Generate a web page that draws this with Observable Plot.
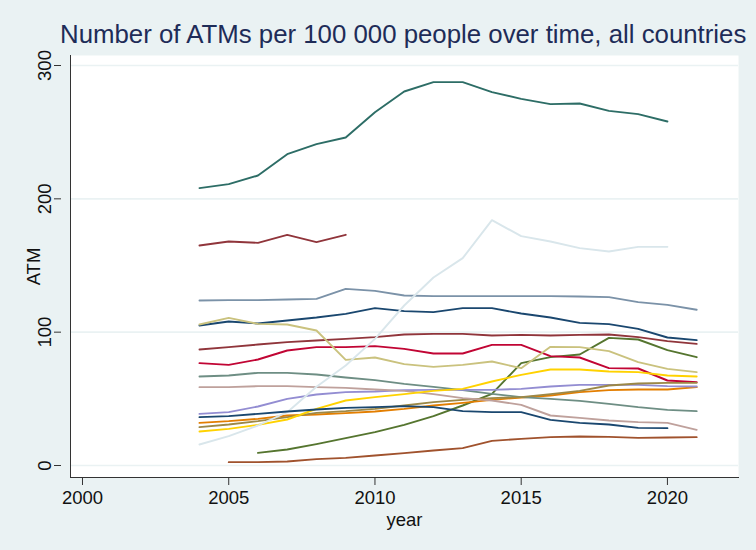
<!DOCTYPE html>
<html><head><meta charset="utf-8">
<script src="https://cdn.jsdelivr.net/npm/d3@7"></script>
<script src="https://cdn.jsdelivr.net/npm/@observablehq/plot@0.6"></script>
<style>
html,body{margin:0;padding:0;background:#EAF2F3;}
#wrap{position:relative;width:756px;height:550px;background:#EAF2F3;font-family:"Liberation Sans",Arial,sans-serif;overflow:hidden}
#title{position:absolute;left:60px;top:22px;font-size:25.8px;line-height:1;color:#1e2c58;white-space:nowrap}
#chart{position:absolute;left:0;top:0}
</style></head><body>
<div id="wrap"><div id="chart"></div><div id="title">Number of ATMs per 100 000 people over time, all countries</div></div>
<script>
// years 2004..2021
const years = [2004,2005,2006,2007,2008,2009,2010,2011,2012,2013,2014,2015,2016,2017,2018,2019,2020,2021];
const xTicks = [2000,2005,2010,2015,2020];
const yTicks = [0,100,200,300];

const sNavyA     = [105,108,106.5,108.75,111,113.75,118,115.75,115,118,118,114,111,107,106,102.5,96,94];
const sMaroonA   = [87,88.75,90.75,92.5,93.75,95,96.25,98.25,98.75,98.75,97.5,98,97.5,98,98.25,96.25,93.25,91.25];
const sForest    = [null,null,9.5,12,16,20.5,25,30.5,37,45,53.75,76.75,81.25,83.25,95.75,94.5,86.5,81.25];
const sOrange    = [32,33.25,35,37.5,38.25,39.25,40.5,42.5,45,47,49.25,51,52.5,55,56.5,57,57,58.75];
const sTeal      = [66.75,67.5,69.5,69.5,68.25,66,64,61.25,59,56.5,53.75,51.25,50,48.5,46.25,43.75,41.75,40.75];
const sCranberry = [76.75,75.5,79.5,86.25,88.75,88.75,89.5,87.5,84,84,90.5,90.5,82,81,73,72.75,63.75,62.5];
const sLavender  = [38.75,40,44.25,50,53.25,55,55.5,56.5,56.75,56.75,56.75,57.5,59.25,60.5,60.5,60.5,59.5,59.25];
const sKhaki     = [105.75,110.75,106.25,105.75,101.25,79.25,81,76,74,75.5,78,73,89,88.75,85.75,77.5,72.5,70];
const sSienna    = [null,2.5,2.5,3,4.75,5.75,7.5,9.25,11.25,13,18.5,20,21.25,21.75,21.5,20.75,21,21.25];
const sEmidblue  = [123.75,124,124,124.5,125,132.5,131,127.5,127,127,127,127,127,126.75,126.3,122.5,120.5,116.8];
const sEmerald   = [208,211,217.5,233.5,241,246,265,280.5,287.5,287.5,280,275,271,271.5,266,263.5,258,null];
const sBrown     = [28.75,30.75,33.25,36.25,39.5,40.75,42.5,45,47.5,49.25,50.5,51.25,53.5,56,60,61.5,62,62];
const sErose     = [58.75,58.75,59.5,59.5,58.75,58.25,57,56,53.5,50.5,48.75,45.5,37.5,35.75,33.75,32.5,32,26.75];
const sGold      = [25.5,27.5,30.5,34.5,42.5,48.75,51.25,53.5,56,57.5,63,68,72,72,70.5,70,67.5,66.75];
const sBluish    = [15.75,22,30,40,59,75,95,120,141,155.5,184,172,168,163,160.5,164,164,null];
const sNavyB     = [36.25,37,38.75,40.5,42,43.25,43.75,44.5,43.75,40.75,40,40,34.25,32,30.75,28.25,28,null];
const sMaroonB   = [165,168,167,173,167.5,173,null,null,null,null,null,null,null,null,null,null,null,null];

const seriesNames = ["1","2","3","4","5","6","7","8","9","10","11","12","13","14","15","16","17"];
const seriesValues = [sNavyA,sMaroonA,sForest,sOrange,sTeal,sCranberry,sLavender,sKhaki,sSienna,sEmidblue,sEmerald,sBrown,sErose,sGold,sBluish,sNavyB,sMaroonB];
const seriesColors = ["#1a476f","#90353b","#55752f","#e37e00","#6e8e84","#c10534","#938dd2","#cac27e","#a0522d","#7b92a8","#2d6d66","#9c8847","#bfa19c","#ffd200","#d9e6eb","#1a476f","#90353b"];

const data = seriesValues.flatMap((vals, i) =>
  years.map((yr, j) => ({year: yr, value: vals[j], series: seriesNames[i]}))
).filter(d => d.value != null);

const chart = Plot.plot({
  width: 756, height: 550,
  marginTop: 55, marginBottom: 73, marginLeft: 70, marginRight: 18,
  style: {background: "transparent", fontFamily: "'Liberation Sans', Arial, sans-serif", color: "#111"},
  x: {domain: [1999.59, 2022.43]},
  y: {domain: [-9, 307.5]},
  color: {domain: seriesNames, range: seriesColors},
  marks: [
    Plot.frame({fill: "white", stroke: null}),
    Plot.gridY(yTicks, {stroke: "#EAF2F3", strokeOpacity: 1, strokeWidth: 1.6}),
    Plot.line(data, {x: "year", y: "value", z: "series", stroke: "series", strokeWidth: 1.9}),
    Plot.frame({anchor: "left", stroke: "#333", strokeWidth: 1}),
    Plot.frame({anchor: "bottom", stroke: "#333", strokeWidth: 1}),
    Plot.axisX(xTicks, {tickSize: 8, tickFormat: d => String(d), fontSize: 18.5, tickPadding: 5, stroke: "#333",
      label: "year", labelAnchor: "center", labelArrow: "none", labelOffset: 48}),
    Plot.axisY(yTicks, {tickSize: 7, tickRotate: -90, fontSize: 18.5, tickPadding: 4, dx: -9, stroke: "#333",
      label: "ATM", labelAnchor: "center", labelArrow: "none", labelOffset: 44})
  ]
});
document.getElementById("chart").appendChild(chart);
</script>
</body></html>
